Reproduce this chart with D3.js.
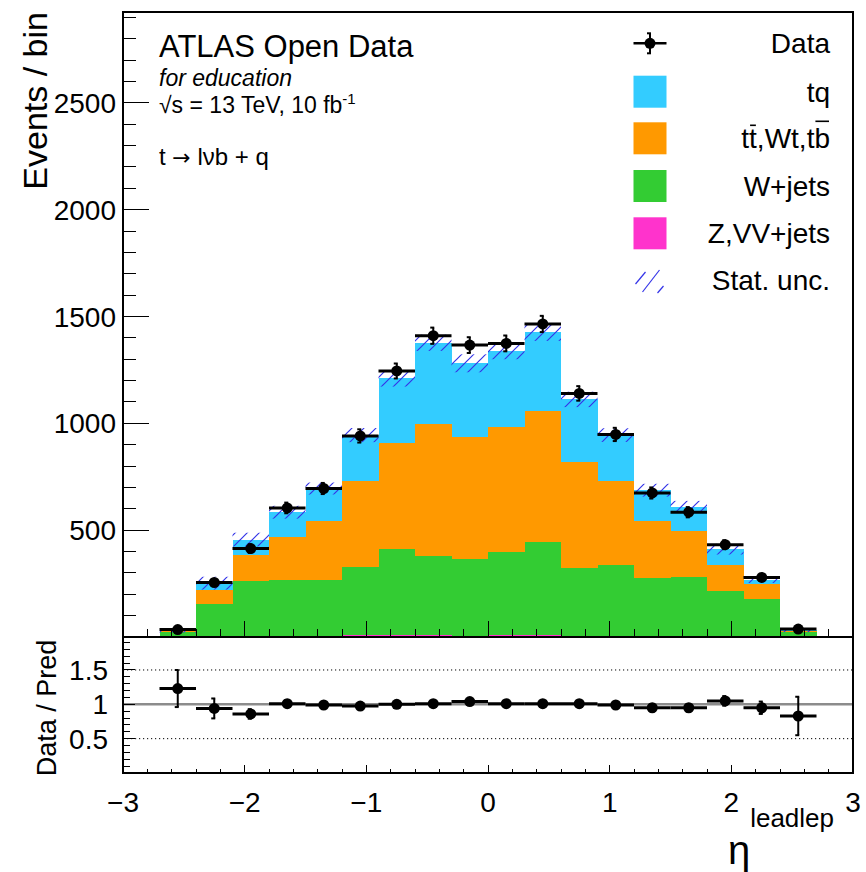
<!DOCTYPE html>
<html><head><meta charset="utf-8">
<script src="https://cdn.jsdelivr.net/npm/d3@7"></script>
<style>
body{margin:0;background:#fff}
text{font-family:"Liberation Sans",Arial,Helvetica,sans-serif;fill:#000}
</style>
</head><body>
<svg id="c" width="866" height="872"></svg>
<script>
// ---------------- data ----------------
const binLow  = [-2.7,-2.4,-2.1,-1.8,-1.5,-1.2,-0.9,-0.6,-0.3,0.0,0.3,0.6,0.9,1.2,1.5,1.8,2.1,2.4];
const binHigh = [-2.4,-2.1,-1.8,-1.5,-1.2,-0.9,-0.6,-0.3,0.0,0.3,0.6,0.9,1.2,1.5,1.8,2.1,2.4,2.7];
const zvvJets = [1,4,4,4,4,9,10,10,5,9,10,4,4,4,4,3,3,1];
const wJets   = [21,149,258,265,265,319,404,368,362,389,435,321,332,272,277,211,174,22];
const ttbar   = [4,69,121,199,274,403,492,618,570,583,614,492,395,267,214,122,73,4];
const tq      = [3,30,73,116,152,214,304,381,344,359,367,295,214,144,114,75,18,4];
const mcStatUnc = [8,30,32,30,28,33,38,38,42,40,40,36,32,30,28,25,15,8];
const dataVals = [35,255,414,604,695,941,1245,1410,1366,1374,1465,1140,948,674,584,432,279,37];
const dataErr  = [6,16,20,25,26,31,35,38,37,37,38,34,31,26,24,21,17,6];
const ratioVals = [1.23,0.94,0.86,1.01,0.99,0.975,1.00,1.01,1.04,1.01,1.01,1.01,0.99,0.95,0.95,1.05,0.95,0.83];
const ratioErr  = [0.27,0.145,0.07,0.05,0.045,0.04,0.035,0.035,0.035,0.035,0.035,0.04,0.04,0.05,0.055,0.07,0.09,0.28];
const yMainTicks  = [500,1000,1500,2000,2500];
const yRatioTicks = [0.5,1,1.5];
const xTicks = [-3,-2,-1,0,1,2,3];
const samples = ["Z,VV+jets","W+jets","tt,Wt,tb","tq"];
const sampleColors = ["#ff33cc","#33cc33","#ff9900","#33ccff"];
const hatchColor = "#3434e8";

// ---------------- layout ----------------
const L = 123, R = 853, T = 12, MB = 637, RB = 773;
const FONT = 28;
const svg = d3.select("#c");
const x  = d3.scaleLinear().domain([-3,3]).range([L,R]);
const y  = d3.scaleLinear().domain([0,2925]).range([MB,T]);
const yr = d3.scaleLinear().domain([0,1.98]).range([RB,MB]);

const defs = svg.append("defs");
const pat = defs.append("pattern").attr("id","hatch").attr("patternUnits","userSpaceOnUse")
  .attr("width",12).attr("height",12);
pat.append("path").attr("d","M-1,13 L13,-1 M-7,7 L7,-7 M5,19 L19,5")
  .attr("stroke",hatchColor).attr("stroke-width",1.2).attr("fill","none");

// ---------------- stacked histogram ----------------
const comps = [zvvJets,wJets,ttbar,tq];
const gStack = svg.append("g").attr("shape-rendering","crispEdges");
binLow.forEach((lo,i)=>{
  let base = 0;
  comps.forEach((c,k)=>{
    const top = base + c[i];
    gStack.append("rect").attr("x",x(lo)).attr("width",x(binHigh[i])-x(lo))
      .attr("y",y(top)).attr("height",Math.max(0,y(base)-y(top)))
      .attr("fill",sampleColors[k]);
    base = top;
  });
});
// stat unc band
const totals = binLow.map((_,i)=>comps.reduce((s,c)=>s+c[i],0));
binLow.forEach((lo,i)=>{
  const hi = totals[i]+mcStatUnc[i], lw = Math.max(0,totals[i]-mcStatUnc[i]);
  svg.append("rect").attr("x",x(lo)).attr("width",x(binHigh[i])-x(lo))
    .attr("y",y(hi)).attr("height",y(lw)-y(hi)).attr("fill","url(#hatch)");
});

// ---------------- data points ----------------
function drawPoints(g, vals, errs, ys){
  binLow.forEach((lo,i)=>{
    const cx = x((lo+binHigh[i])/2), cy = ys(vals[i]);
    g.append("line").attr("x1",x(lo)).attr("x2",x(binHigh[i])).attr("y1",cy).attr("y2",cy)
      .attr("stroke","#000").attr("stroke-width",3);
    const y1 = ys(vals[i]+errs[i]), y2 = ys(vals[i]-errs[i]);
    g.append("line").attr("x1",cx).attr("x2",cx).attr("y1",y1).attr("y2",y2)
      .attr("stroke","#000").attr("stroke-width",2);
    g.append("line").attr("x1",cx-3).attr("x2",cx+1).attr("y1",y1).attr("y2",y1).attr("stroke","#000").attr("stroke-width",2);
    g.append("line").attr("x1",cx-3).attr("x2",cx+1).attr("y1",y2).attr("y2",y2).attr("stroke","#000").attr("stroke-width",2);
    g.append("circle").attr("cx",cx).attr("cy",cy).attr("r",5.5).attr("fill","#000");
  });
}
drawPoints(svg.append("g"), dataVals, dataErr, y);

// ---------------- ratio panel ----------------
const gR = svg.append("g");
[0.5,1.5].forEach(v=>{
  gR.append("line").attr("x1",L).attr("x2",R).attr("y1",yr(v)).attr("y2",yr(v))
    .attr("stroke","#000").attr("stroke-width",1).attr("stroke-dasharray","1.2,2.8");
});
gR.append("line").attr("x1",L).attr("x2",R).attr("y1",yr(1)).attr("y2",yr(1))
  .attr("stroke","#8c8c8c").attr("stroke-width",2.5);
drawPoints(gR, ratioVals, ratioErr, yr);

// ---------------- frames & axes ----------------
const gA = svg.append("g").attr("stroke","#000").attr("shape-rendering","crispEdges");
gA.append("rect").attr("x",L).attr("y",T).attr("width",R-L).attr("height",MB-T).attr("fill","none").attr("stroke-width",1.2);
gA.append("rect").attr("x",L).attr("y",MB).attr("width",R-L).attr("height",RB-MB).attr("fill","none").attr("stroke-width",1.2);

function ticksY(scale, majors, minors, lenMaj, lenMin){
  minors.forEach(v=>gA.append("line").attr("x1",L).attr("x2",L+lenMin).attr("y1",scale(v)).attr("y2",scale(v)));
  majors.forEach(v=>gA.append("line").attr("x1",L).attr("x2",L+lenMaj).attr("y1",scale(v)).attr("y2",scale(v)));
}
function ticksX(yb, lenMaj, lenMin){
  d3.range(-2.8,3.0,0.2).forEach(v=>gA.append("line").attr("x1",x(v)).attr("x2",x(v)).attr("y1",yb).attr("y2",yb-lenMin));
  xTicks.forEach(v=>gA.append("line").attr("x1",x(v)).attr("x2",x(v)).attr("y1",yb).attr("y2",yb-lenMaj));
}
ticksY(y, yMainTicks, d3.range(100,2925,100), 26, 13);
ticksY(yr, yRatioTicks, d3.range(0.1,1.95,0.1), 12, 7);
ticksX(MB, 16, 8);
ticksX(RB, 8, 4);

// tick labels
const gT = svg.append("g").style("font-size",FONT+"px");
yMainTicks.forEach(v=>gT.append("text").attr("x",116).attr("y",y(v)).attr("dy","0.36em").attr("text-anchor","end").text(v));
yRatioTicks.forEach(v=>gT.append("text").attr("x",108).attr("y",yr(v)).attr("dy","0.36em").attr("text-anchor","end").style("font-size","28px").text(v));
xTicks.forEach(v=>gT.append("text").attr("x",x(v)).attr("y",812).attr("text-anchor","middle").text(v<0?"\u2212"+Math.abs(v):v));

// axis titles
svg.append("text").attr("transform","translate(47,12) rotate(-90)").attr("text-anchor","end")
  .style("font-size","34px").text("Events / bin");
svg.append("text").attr("transform","translate(56,708) rotate(-90)").attr("text-anchor","middle")
  .style("font-size","27px").text("Data / Pred");
const xt = svg.append("text").attr("x",834).attr("y",864).attr("text-anchor","end");
xt.append("tspan").style("font-size","40px").text("\u03b7");
xt.append("tspan").style("font-size","26px").attr("dy",-37).text("leadlep");

// labels
svg.append("text").attr("x",159).attr("y",57).style("font-size","31px").text("ATLAS Open Data");
svg.append("text").attr("x",159).attr("y",86).style("font-size","23px").style("font-style","italic").text("for education");
const sq = svg.append("text").attr("x",159).attr("y",113).style("font-size","23px");
sq.append("tspan").text("\u221as = 13 TeV, 10 fb");
sq.append("tspan").attr("dy",-9).style("font-size","15px").text("-1");
const tl = svg.append("text").attr("x",159).attr("y",165).style("font-size","24px");
tl.append("tspan").text("t ");
tl.append("tspan").style("font-family","'DejaVu Sans'").style("font-size","22px").text("\u2192");
tl.append("tspan").text(" l\u03bdb + q");

// ---------------- legend ----------------
const legY = [43.3,91.7,138.3,186,233.3,280];
const bx0 = 633.5, bw = 33, bh = 32;
const gL = svg.append("g");
const dcx = bx0+bw/2;
gL.append("line").attr("x1",bx0).attr("x2",bx0+bw).attr("y1",legY[0]).attr("y2",legY[0]).attr("stroke","#000").attr("stroke-width",2.5);
gL.append("line").attr("x1",dcx).attr("x2",dcx).attr("y1",legY[0]-10).attr("y2",legY[0]+10).attr("stroke","#000").attr("stroke-width",2);
gL.append("line").attr("x1",dcx-3).attr("x2",dcx+1).attr("y1",legY[0]-10).attr("y2",legY[0]-10).attr("stroke","#000").attr("stroke-width",2);
gL.append("line").attr("x1",dcx-3).attr("x2",dcx+1).attr("y1",legY[0]+10).attr("y2",legY[0]+10).attr("stroke","#000").attr("stroke-width",2);
gL.append("circle").attr("cx",dcx).attr("cy",legY[0]).attr("r",5.5).attr("fill","#000");
const legOrder = [3,2,1,0];
legOrder.forEach((k,j)=>{
  gL.append("rect").attr("x",bx0).attr("y",legY[j+1]-bh/2).attr("width",bw).attr("height",bh).attr("fill",sampleColors[k]);
});
[[bx0+2,legY[5]+4,bx0+12,legY[5]-8],[bx0+9,legY[5]+12,bx0+26,legY[5]-10],[bx0+24,legY[5]+13,bx0+30,legY[5]+6]].forEach(s=>{
  gL.append("line").attr("x1",s[0]).attr("y1",s[1]).attr("x2",s[2]).attr("y2",s[3]).attr("stroke",hatchColor).attr("stroke-width",1.2);
});
const legText = ["Data", samples[3], samples[2], samples[1], samples[0], "Stat. unc."];
const legTexts = legText.map((t,j)=>gL.append("text").attr("x",830).attr("y",legY[j]).attr("dy","0.36em")
  .attr("text-anchor","end").style("font-size","28px").text(t));
const ttNode = legTexts[2].node();
[1,7].forEach(ci=>{
  const ext = ttNode.getExtentOfChar(ci);
  const top = (ci===1? legY[2]-13 : legY[2]-17);
  gL.append("line").attr("x1",ext.x+1).attr("x2",ext.x+ext.width-1).attr("y1",top).attr("y2",top)
    .attr("stroke","#000").attr("stroke-width",1.6);
});
</script>
</body></html>
